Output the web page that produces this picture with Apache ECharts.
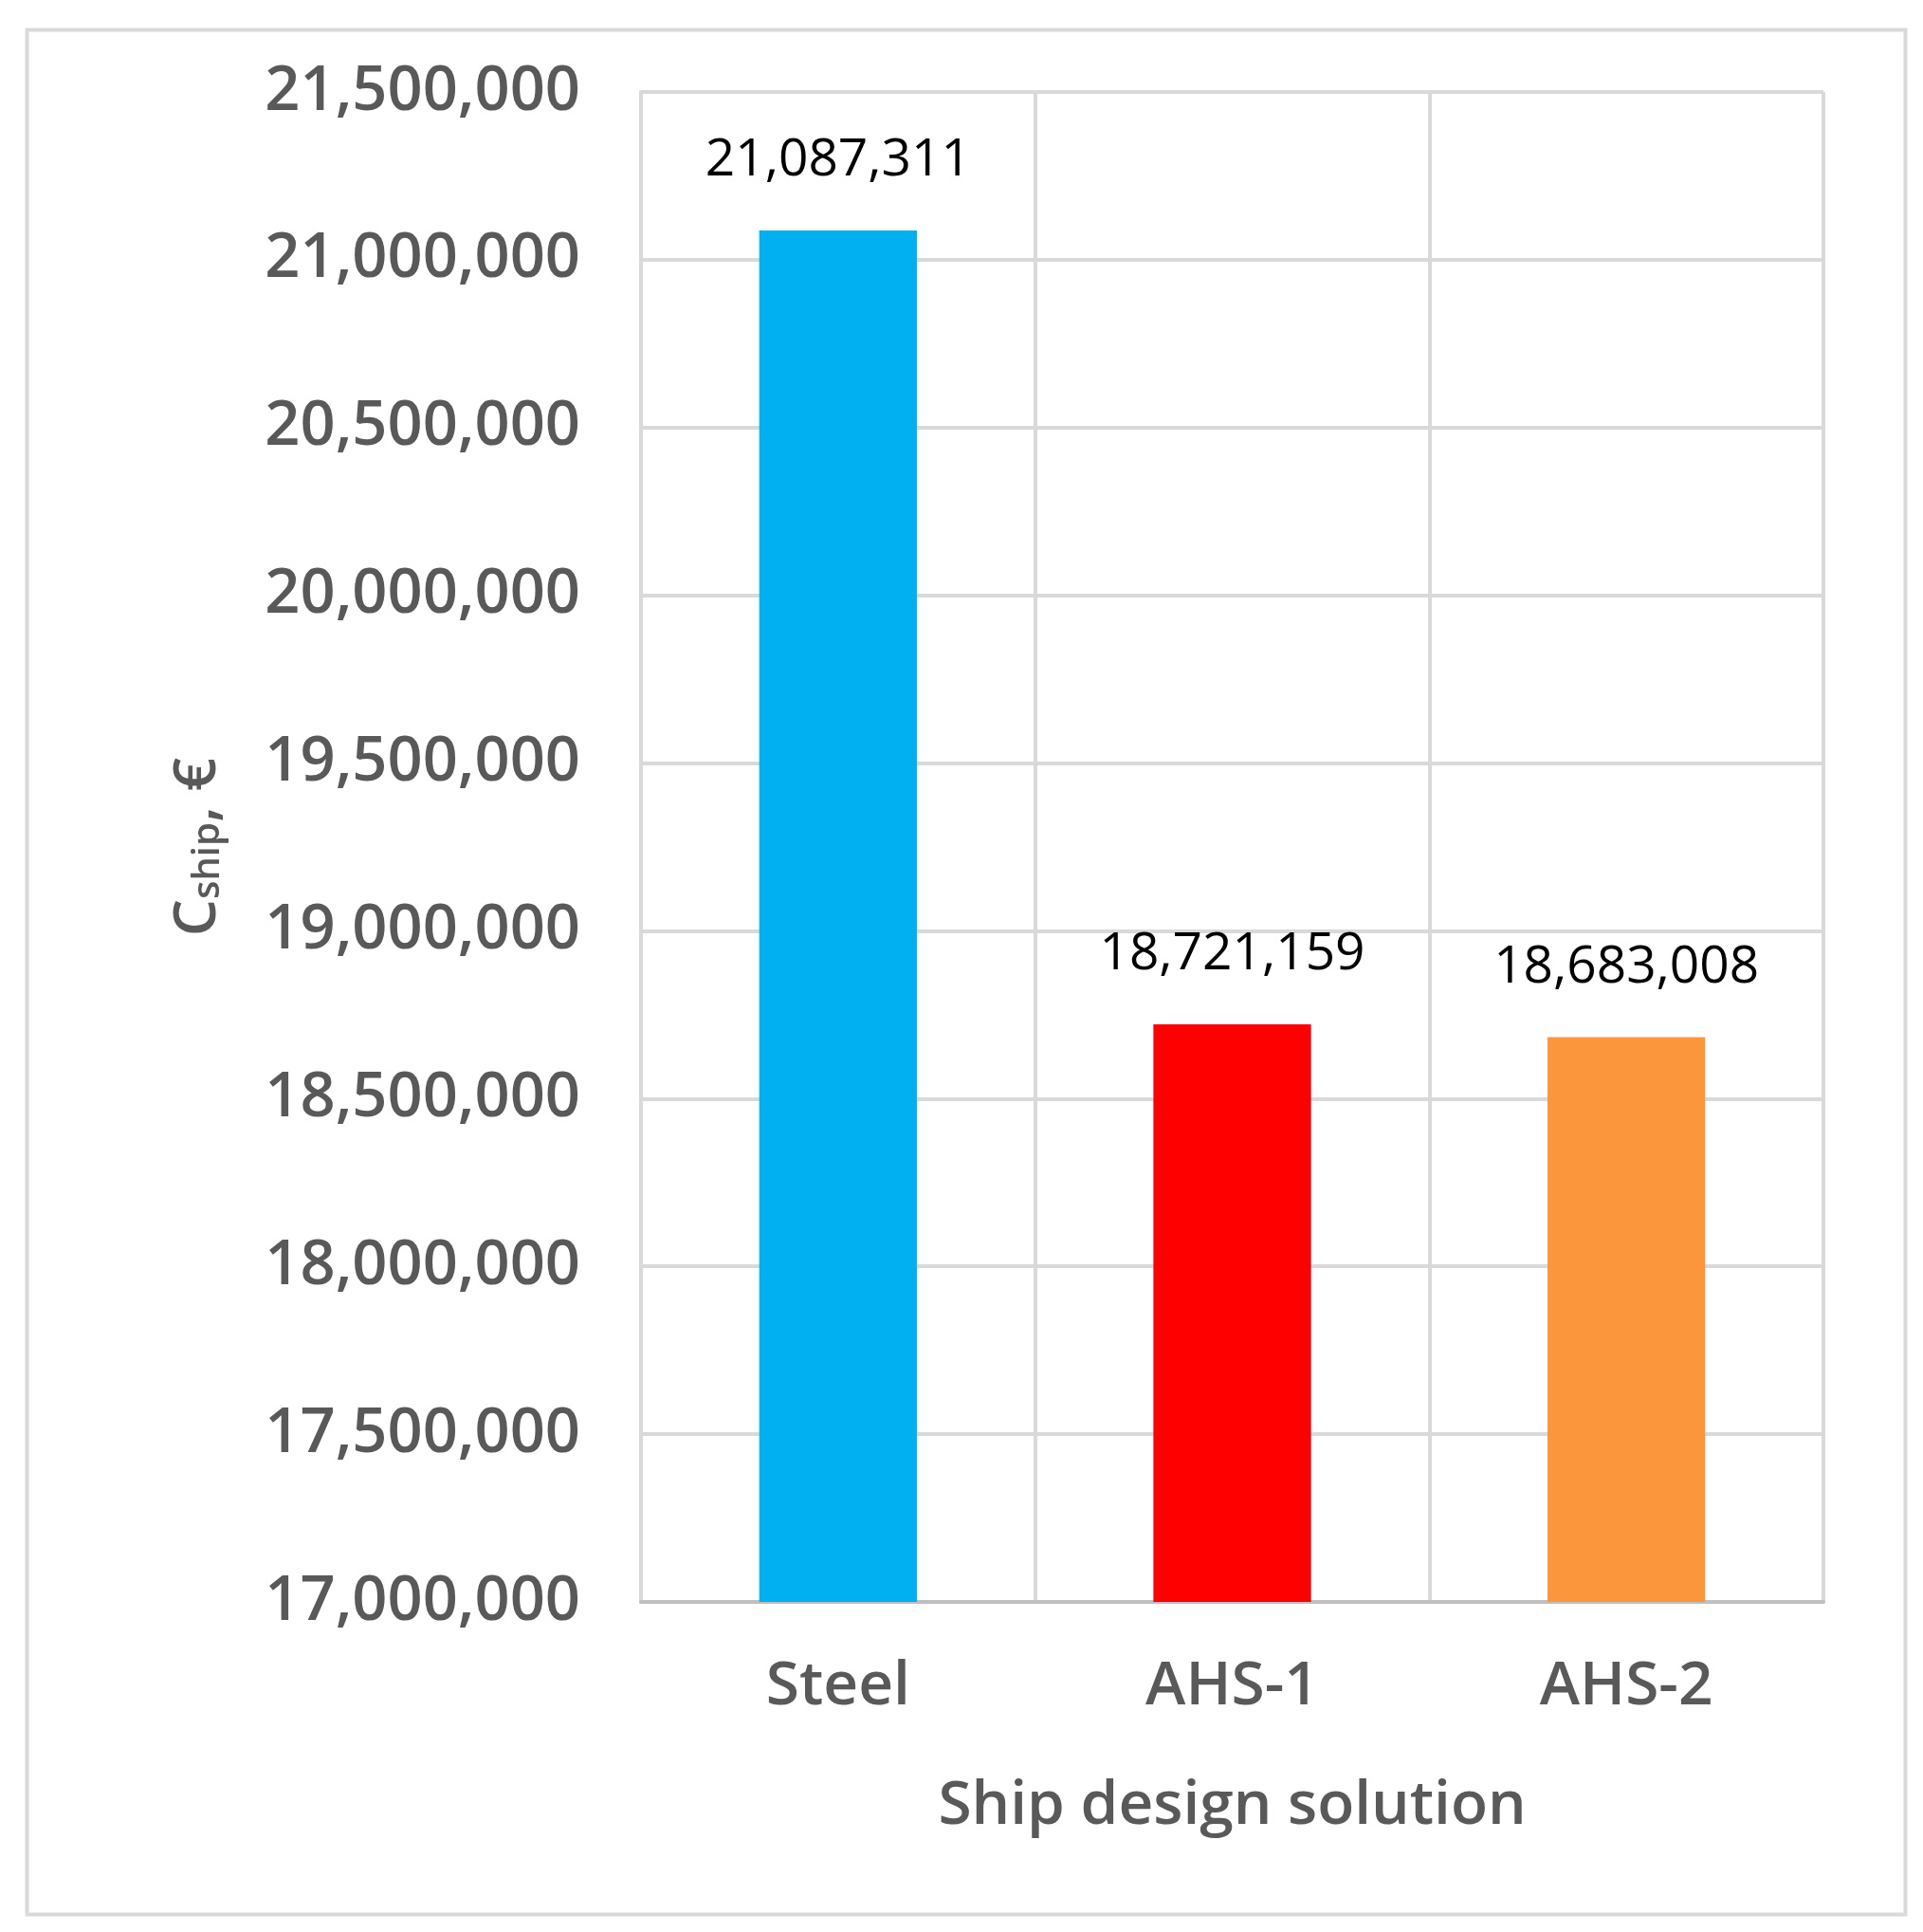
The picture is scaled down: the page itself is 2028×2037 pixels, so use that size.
<!DOCTYPE html>
<html>
<head>
<meta charset="utf-8">
<script src="https://cdn.jsdelivr.net/npm/echarts@6/dist/echarts.min.js"></script>
<style>
  html, body { margin: 0; padding: 0; background: #fff; }
  #chart { width: 2028px; height: 2037px; }
</style>
</head>
<body>
<div id="chart"></div>
<script>
// data
const categories = ['Steel', 'AHS-1', 'AHS-2']
const costs = [21087311, 18721159, 18683008]
const barColors = ['#00B0F0', '#FF0000', '#FB963C']
const yMin = 17000000
const yMax = 21500000
const yStep = 500000

const fmt = v => Number(v).toLocaleString('en-US')

const chart = echarts.init(document.getElementById('chart'), null, { renderer: 'canvas' })

chart.setOption({
  backgroundColor: '#fff',
  animation: false,
  textStyle: { fontFamily: 'Open Sans' },
  graphic: [{
    type: 'rect',
    left: 26,
    top: 29,
    shape: { width: 1981, height: 1987 },
    style: { fill: 'none', stroke: '#d9d9d9', lineWidth: 4 },
    silent: true
  }],
  grid: {
    left: 676,
    right: 105,
    top: 97,
    bottom: 348
  },
  xAxis: {
    type: 'category',
    data: categories,
    name: 'Ship design solution',
    nameLocation: 'middle',
    nameGap: 184,
    nameTextStyle: { fontSize: 64, fontWeight: 600, color: '#595959' },
    axisLine: { show: true, lineStyle: { color: '#bfbfbf', width: 4 } },
    axisTick: { show: false },
    axisLabel: { fontSize: 64, fontWeight: 600, color: '#595959', margin: 58 },
    splitLine: { show: true, lineStyle: { color: '#d9d9d9', width: 4 } }
  },
  yAxis: {
    type: 'value',
    min: yMin,
    max: yMax,
    interval: yStep,
    name: '{c|C}{s|ship}{c|, €}',
    nameLocation: 'middle',
    nameRotate: 90,
    nameGap: 436,
    nameTextStyle: {
      rich: {
        c: { fontSize: 62, fontWeight: 600, color: '#595959', fontFamily: 'Open Sans', verticalAlign: 'bottom', lineHeight: 70 },
        s: { fontSize: 40, fontWeight: 600, color: '#595959', fontFamily: 'Open Sans', verticalAlign: 'bottom', lineHeight: 70 }
      }
    },
    axisLine: { show: true, lineStyle: { color: '#d9d9d9', width: 4 } },
    axisTick: { show: false },
    axisLabel: {
      fontSize: 65,
      fontWeight: 600,
      color: '#595959',
      margin: 64,
      formatter: fmt
    },
    splitLine: { show: true, lineStyle: { color: '#d9d9d9', width: 4 } }
  },
  series: [{
    type: 'bar',
    barWidth: '40%',
    data: costs.map((v, i) => ({ value: v, itemStyle: { color: barColors[i] } })),
    label: {
      show: true,
      position: 'top',
      distance: 46,
      fontSize: 55,
      color: '#000',
      fontFamily: 'Open Sans',
      formatter: p => fmt(p.value)
    }
  }]
})
</script>
</body>
</html>
